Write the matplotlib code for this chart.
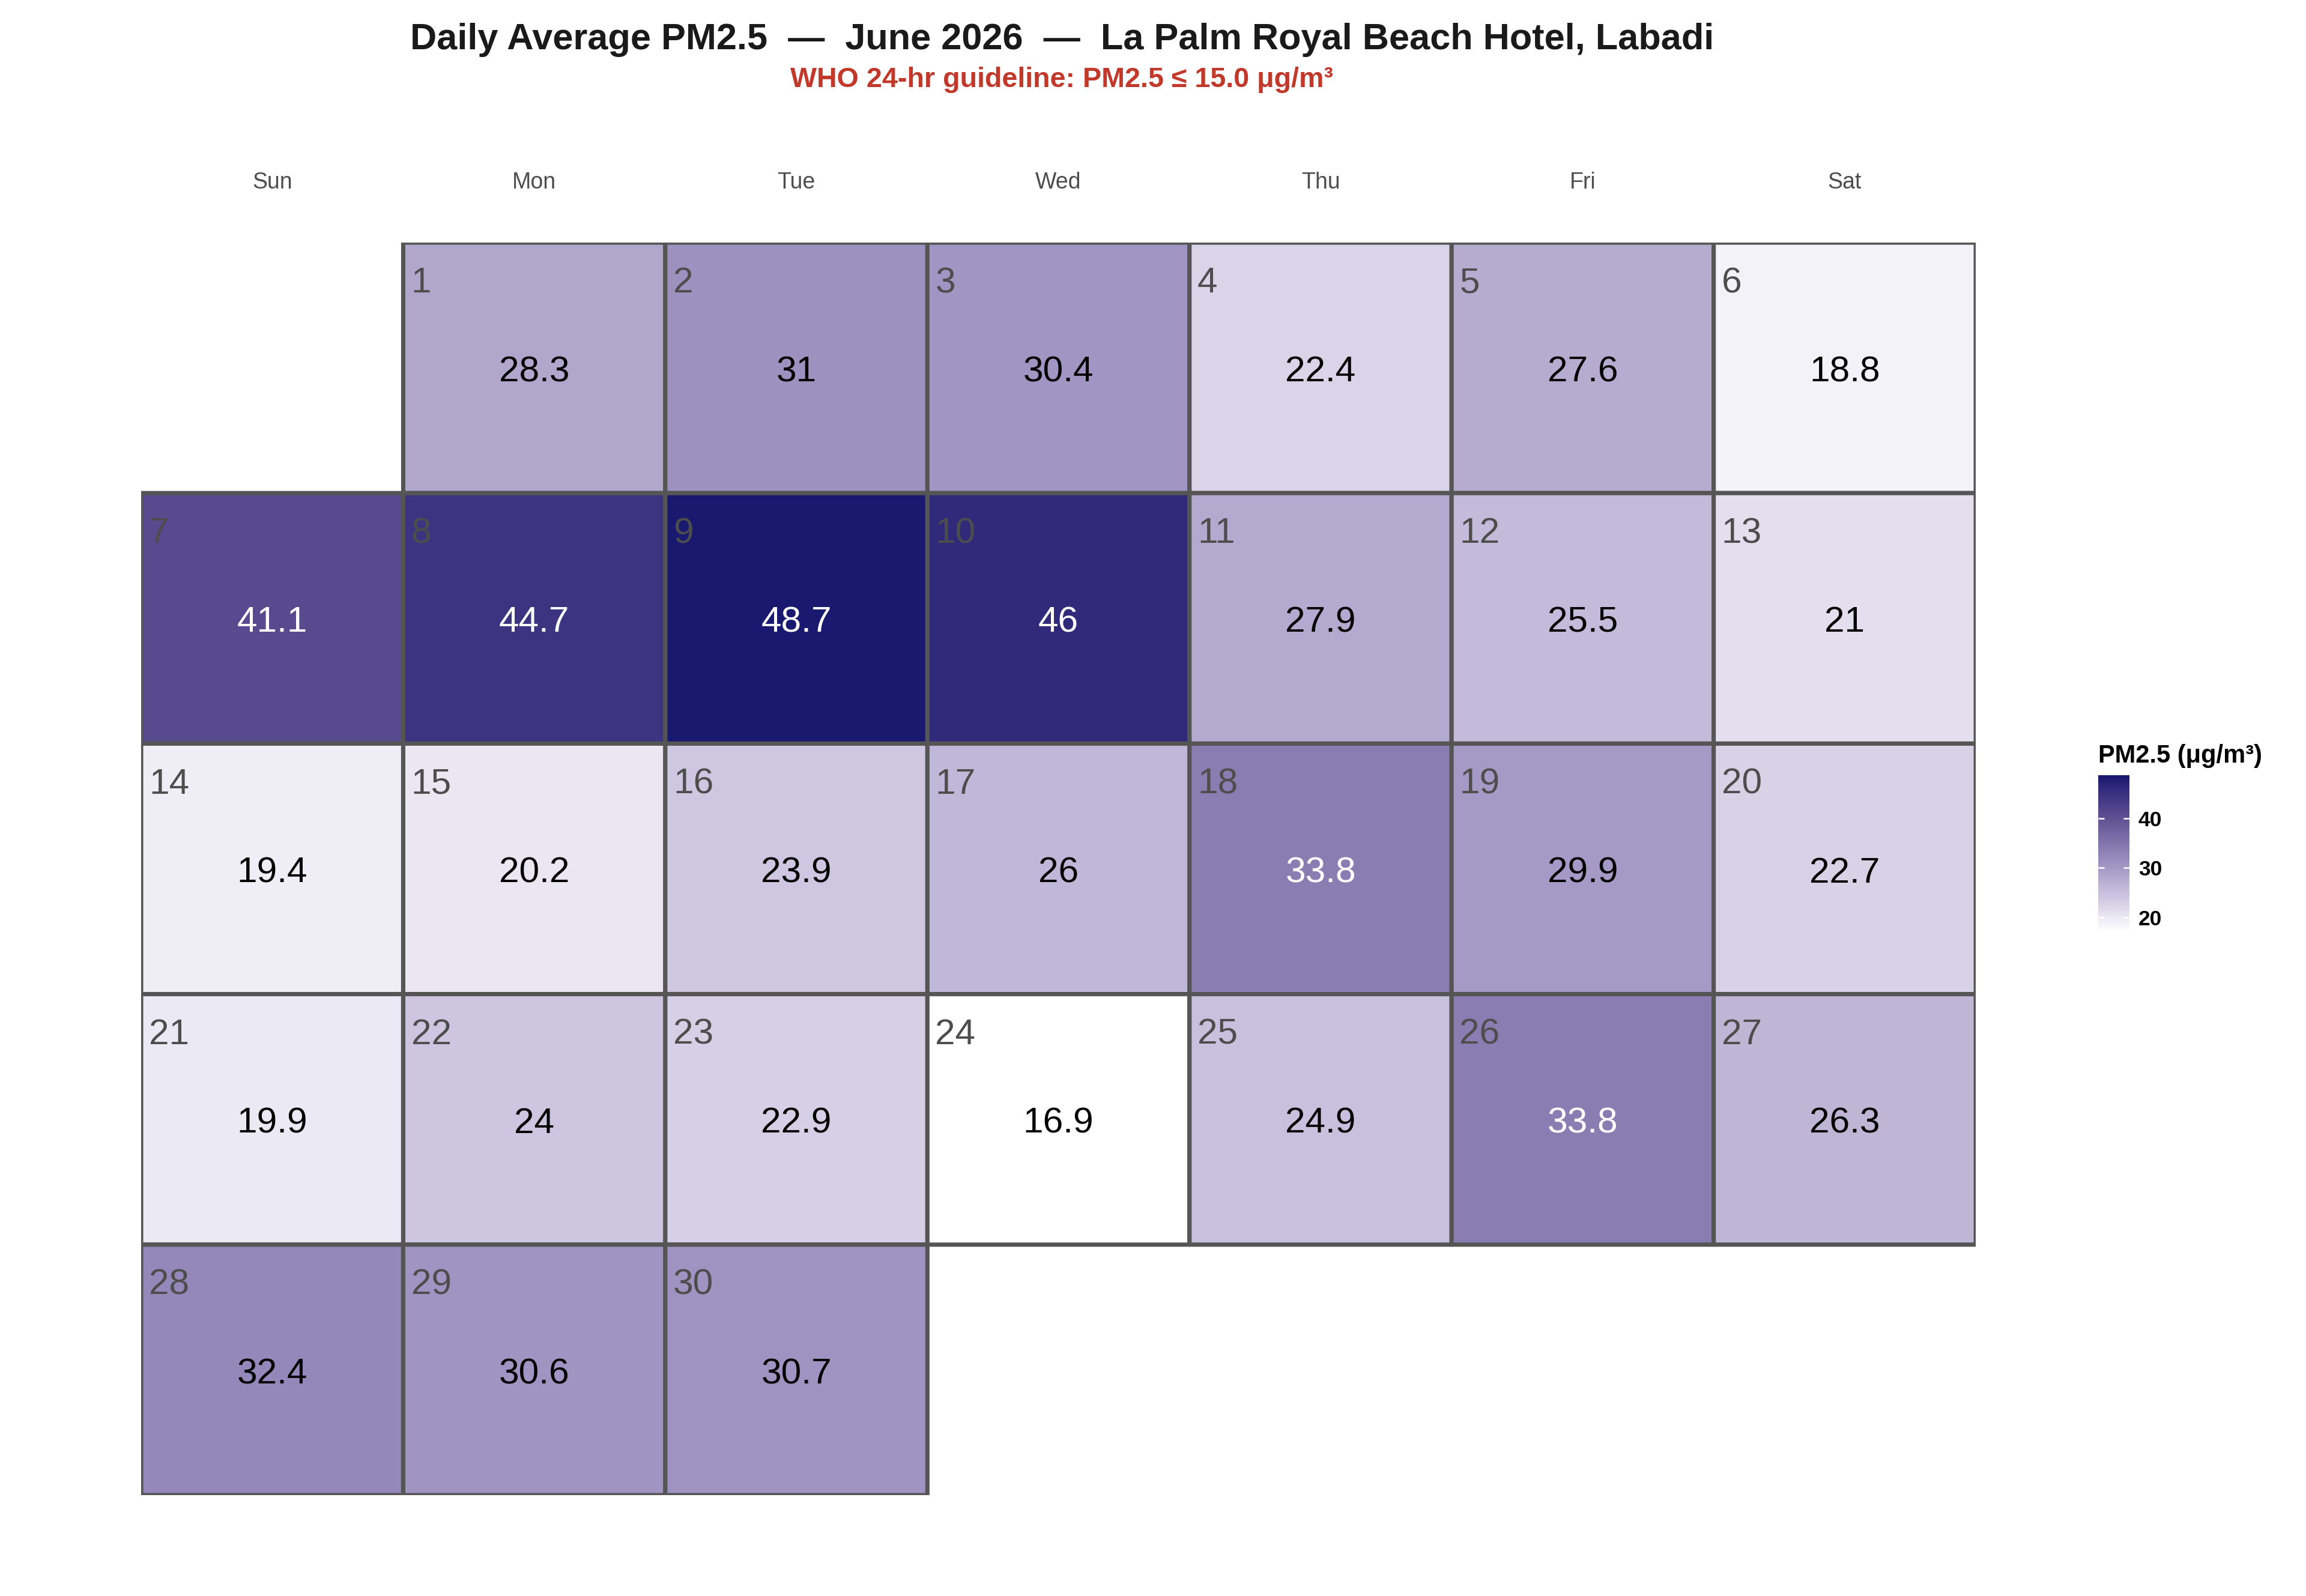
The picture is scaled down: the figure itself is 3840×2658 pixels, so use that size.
import numpy as np
import matplotlib
matplotlib.use("Agg")
from matplotlib import pyplot as plt
from matplotlib.colors import LinearSegmentedColormap, Normalize

plt.rcParams["font.family"] = ["Liberation Sans", "DejaVu Sans"]

# Data
weekdays = ["Sun", "Mon", "Tue", "Wed", "Thu", "Fri", "Sat"]
days = list(range(1, 31))
pm25 = [28.3, 31, 30.4, 22.4, 27.6, 18.8,
        41.1, 44.7, 48.7, 46, 27.9, 25.5, 21,
        19.4, 20.2, 23.9, 26, 33.8, 29.9, 22.7,
        19.9, 24, 22.9, 16.9, 24.9, 33.8, 26.3,
        32.4, 30.6, 30.7]
first_weekday = 1  # June 1 2026 is a Monday
title = "Daily Average PM2.5  \u2014  June 2026  \u2014  La Palm Royal Beach Hotel, Labadi"
subtitle = "WHO 24-hr guideline: PM2.5 \u2264 15.0 \u03bcg/m\u00b3"
cbar_title = "PM2.5 (\u03bcg/m\u00b3)"
cbar_ticks = [20, 30, 40]

# calendar grid
n_rows = (first_weekday + len(days) + 6) // 7
grid = np.full((n_rows, 7), np.nan)
for d, v in zip(days, pm25):
    k = first_weekday + d - 1
    grid[k // 7, k % 7] = v
grid = np.ma.masked_invalid(grid)

# colour scale (white -> lavender -> midnight blue)
vmin, vmax = min(pm25), max(pm25)
anchors = [(16.9, "#ffffff"), (19.4, "#efedf5"), (23.9, "#cfc7e1"), (27.9, "#b3aacf"),
           (31.0, "#9d91c0"), (33.8, "#8a7db2"), (41.1, "#574a8e"), (44.7, "#3d3381"),
           (48.7, "#191970")]
cmap = LinearSegmentedColormap.from_list(
    "pm", [((a - vmin) / (vmax - vmin), c) for a, c in anchors])
norm = Normalize(vmin=vmin, vmax=vmax)

fig = plt.figure(figsize=(12.8, 8.86), dpi=300)
ax = fig.add_axes([0.0612, 0.0632, 0.7956, 0.7848])

# pcolor drops masked cells, so empty days get no border
mesh = ax.pcolor(np.arange(8), np.arange(n_rows + 1), grid, cmap=cmap, norm=norm,
                 edgecolors="#555555", linewidth=1.7)
ax.set_xlim(0, 7)
ax.set_ylim(n_rows, 0)
ax.axis("off")

for d, v in zip(days, pm25):
    k = first_weekday + d - 1
    r, c = k // 7, k % 7
    ax.text(c + 0.03, r + 0.162, str(d), ha="left", va="center",
            fontsize=14.5, color="#4d4d4d")
    ax.text(c + 0.5, r + 0.517, f"{v:g}", ha="center", va="center", fontsize=14.5,
            color="white" if v > 33 else "black")

for c, wd in enumerate(weekdays):
    ax.text(c + 0.5, -0.24, wd, ha="center", va="center", fontsize=9,
            color="#4d4d4d", clip_on=False)

fig.text(0.4605, 0.9748, title, ha="center", va="center", fontsize=14.7,
         weight="bold", color="#1a1a1a")
fig.text(0.4605, 0.950, subtitle, ha="center", va="center", fontsize=11.2,
         weight="bold", color="#c0392b")

# colorbar
cax = fig.add_axes([0.910, 0.4157, 0.0135, 0.0986])
cbar = fig.colorbar(mesh, cax=cax, ticks=cbar_ticks)
cbar.outline.set_visible(False)
cax.tick_params(direction="in", color="white", length=2.4, width=0.6,
                left=True, right=True, labelsize=8.5, pad=3.5)
for lbl in cax.get_yticklabels():
    lbl.set_fontweight("bold")
fig.text(0.910, 0.5263, cbar_title, ha="left", va="center", fontsize=10,
         weight="bold", color="black")

fig.savefig("out.png", dpi=300)
